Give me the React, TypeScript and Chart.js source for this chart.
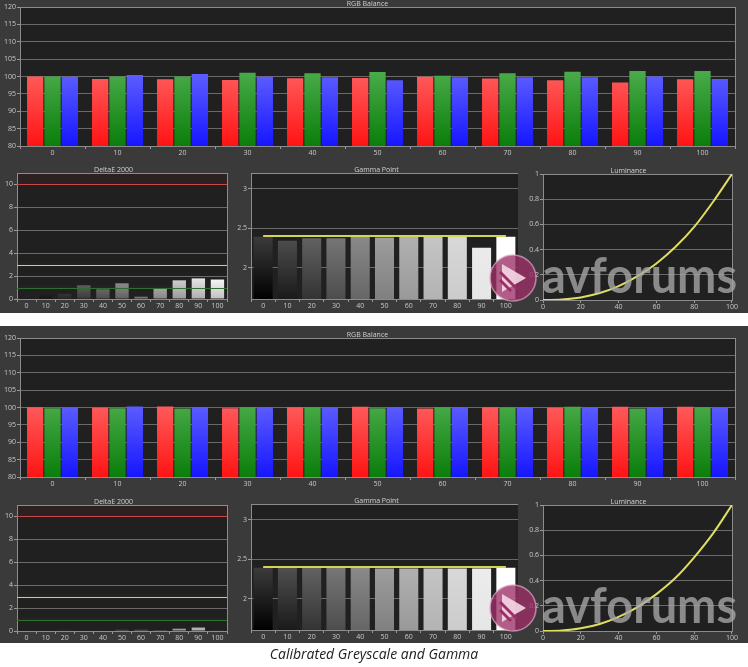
import React, { useEffect, useRef } from 'react';
import { Chart, registerables } from 'chart.js';

Chart.register(...registerables);

// ---------- data ----------
const CATEGORIES = ['0', '10', '20', '30', '40', '50', '60', '70', '80', '90', '100'];

const RGB1_RED = [100, 99.3, 99.2, 99.0, 99.5, 99.6, 99.9, 99.4, 98.9, 98.3, 99.2];
const RGB1_GREEN = [100, 100, 100, 101.1, 100.9, 101.3, 100.2, 100.9, 101.4, 101.6, 101.6];
const RGB1_BLUE = [99.9, 100.4, 100.7, 99.9, 99.8, 98.9, 99.8, 99.8, 99.8, 100, 99.3];

const RGB2_RED = [100.1, 99.9, 100.3, 99.8, 100.1, 100.2, 99.7, 100.1, 99.9, 100.2, 100.2];
const RGB2_GREEN = [99.8, 99.8, 99.7, 100.1, 100.1, 99.8, 100.1, 100, 100.2, 99.7, 100.1];
const RGB2_BLUE = [100, 100.3, 100.1, 100.1, 99.9, 100.1, 100.1, 100.1, 99.9, 100.1, 99.9];

const DELTAE1 = [0.05, 0.45, 0.45, 1.2, 0.85, 1.37, 0.2, 0.93, 1.63, 1.8, 1.7];
const DELTAE2 = [0, 0.05, 0.12, 0.05, 0.05, 0.1, 0.1, 0.02, 0.2, 0.3, 0.05];

const GAMMA1 = [2.39, 2.34, 2.37, 2.37, 2.39, 2.38, 2.4, 2.39, 2.4, 2.25, 2.39];
const GAMMA2 = [2.39, 2.39, 2.39, 2.39, 2.39, 2.38, 2.38, 2.38, 2.38, 2.38, 2.39];
const GAMMA_TARGET = [2.4, 2.4, 2.4, 2.4, 2.4, 2.4, 2.4, 2.4, 2.4, 2.4, 2.4];

const LUM_X = [0, 10, 20, 30, 40, 50, 60, 70, 80, 90, 100];
const LUM1 = [0, 0.004, 0.02, 0.055, 0.11, 0.19, 0.29, 0.42, 0.58, 0.78, 1.0];
const LUM2 = [0, 0.004, 0.021, 0.056, 0.112, 0.19, 0.293, 0.42, 0.585, 0.775, 1.0];

const RGB_TICKS = [80, 85, 90, 95, 100, 105, 110, 115, 120];
const DELTAE_TICKS = [0, 2, 4, 6, 8, 10];
const GAMMA_TICKS = [2, 2.5, 3];
const LUM_Y_TICKS = [0, 0.2, 0.4, 0.6, 0.8, 1];
const LUM_X_TICKS = [0, 20, 40, 60, 80, 100];

const DELTAE_LIMITS = [10, 3, 1];
const DELTAE_LIMIT_COLORS = ['#c84848', '#d2d25a', '#2f6e2f'];
const DELTAE_BANDS = [
  [10, 11, 'rgba(120,40,40,0.16)'],
  [2.5, 3.5, 'rgba(110,110,40,0.08)'],
  [0.5, 1.5, 'rgba(40,100,40,0.1)'],
];

// ---------- styles ----------
const FONT = { family: 'Open Sans', size: 7 };
const TICK = '#c8c8c8';
const GRID = '#6a6a6a';
const AXIS = '#9a9a9a';
const PLOT_BG = '#202020';
const PANEL_BG = '#3a3a3a';

const framePlugin = (limits?: number[], limitColors?: string[], bands?: any[]) => ({
  id: 'frame',
  beforeDraw(chart: any) {
    const { ctx, chartArea: a } = chart;
    ctx.save();
    ctx.fillStyle = PLOT_BG;
    ctx.fillRect(a.left, a.top, a.width, a.height);
    if (bands) {
      const y = chart.scales.y;
      bands.forEach((b) => {
        const y1 = y.getPixelForValue(b[1]);
        const y0 = y.getPixelForValue(b[0]);
        const g = ctx.createLinearGradient(0, y1, 0, y0);
        g.addColorStop(0, 'rgba(0,0,0,0)');
        g.addColorStop(0.5, b[2]);
        g.addColorStop(1, 'rgba(0,0,0,0)');
        ctx.fillStyle = b[0] >= 10 ? b[2] : g;
        ctx.fillRect(a.left, y1, a.width, y0 - y1);
      });
    }
    ctx.restore();
  },
  beforeDatasetsDraw(chart: any) {
    const { ctx, chartArea: a } = chart;
    ctx.save();
    ctx.strokeStyle = '#8c8c8c';
    ctx.lineWidth = 1;
    ctx.strokeRect(Math.round(a.left) + 0.5, Math.round(a.top) + 0.5, Math.round(a.width), Math.round(a.height));
    ctx.restore();
  },
  afterDatasetsDraw(chart: any) {
    if (!limits) return;
    const { ctx, chartArea: a } = chart;
    const y = chart.scales.y;
    ctx.save();
    ctx.lineWidth = 1.2;
    limits.forEach((v, i) => {
      const py = Math.round(y.getPixelForValue(v)) + 0.5;
      ctx.strokeStyle = limitColors![i];
      ctx.beginPath();
      ctx.moveTo(a.left, py);
      ctx.lineTo(a.right, py);
      ctx.stroke();
    });
    ctx.restore();
  },
});

const vGrad = (top: string, bottom: string, fromValue: number) => (c: any) => {
  const chart = c.chart;
  const a = chart.chartArea;
  if (!a) return bottom;
  const y0 = chart.scales.y.getPixelForValue(fromValue);
  const g = chart.ctx.createLinearGradient(0, y0, 0, a.bottom);
  g.addColorStop(0, top);
  g.addColorStop(1, bottom);
  return g;
};

const shade = (v: number) => {
  const n = Math.max(0, Math.min(255, Math.round(v)));
  return `rgb(${n},${n},${n})`;
};

const greyGrad = (fromValue: number, bottomFactor: number) => (c: any) => {
  const chart = c.chart;
  const a = chart.chartArea;
  const t = c.dataIndex / (CATEGORIES.length - 1);
  const top = shade(60 + 195 * t);
  const bottom = shade(255 * t * bottomFactor);
  if (!a) return top;
  const y0 = chart.scales.y.getPixelForValue(fromValue);
  const g = chart.ctx.createLinearGradient(0, y0, 0, a.bottom);
  g.addColorStop(0, top);
  g.addColorStop(1, bottom);
  return g;
};

const numLabel = (v: any) => String(Math.round(Number(v) * 100) / 100);

const titleOpt = (text: string, padTop: number) => ({
  display: true,
  text,
  color: '#d0d0d0',
  font: { family: 'Open Sans', size: 7, lineHeight: 1, weight: 'normal' },
  padding: { top: padTop, bottom: 0 },
});

const yAxis = (min: number, max: number, ticks: number[], width: number) => ({
  min,
  max,
  afterBuildTicks: (s: any) => {
    s.ticks = ticks.map((v) => ({ value: v }));
  },
  afterFit: (s: any) => {
    s.width = width;
  },
  ticks: { color: TICK, font: FONT, padding: 1, callback: numLabel },
  grid: { color: GRID, lineWidth: 1, tickLength: 3, tickColor: AXIS },
  border: { color: AXIS },
});

const xCat = (height: number) => ({
  type: 'category',
  offset: true,
  afterFit: (s: any) => {
    s.height = height;
  },
  ticks: { color: TICK, font: FONT, padding: 0, maxRotation: 0, autoSkip: false },
  grid: { offset: true, drawOnChartArea: false, tickLength: 3, color: AXIS },
  border: { color: AXIS },
});

const common = (title: string, padTop: number, padRight: number) => ({
  responsive: false,
  animation: false,
  events: [],
  layout: { padding: { left: 0, right: padRight, top: 0, bottom: 0 } },
  plugins: {
    legend: { display: false },
    tooltip: { enabled: false },
    title: titleOpt(title, padTop),
  },
});

const rgbConfig = (r: number[], g: number[], b: number[]) => ({
  type: 'bar',
  data: {
    labels: CATEGORIES,
    datasets: [
      { data: r, backgroundColor: vGrad('#ff5c5c', '#ff1414', 101), categoryPercentage: 0.8, barPercentage: 0.94 },
      { data: g, backgroundColor: vGrad('#48aa48', '#0a7e0a', 101), categoryPercentage: 0.8, barPercentage: 0.94 },
      { data: b, backgroundColor: vGrad('#5e5eff', '#1616ff', 101), categoryPercentage: 0.8, barPercentage: 0.94 },
    ],
  },
  options: {
    ...common('RGB Balance', 0, 13),
    scales: { x: xCat(14), y: yAxis(80, 120, RGB_TICKS, 20) },
  },
  plugins: [framePlugin()],
});

const deltaConfig = (vals: number[]) => ({
  type: 'bar',
  data: {
    labels: CATEGORIES,
    datasets: [{ data: vals, backgroundColor: greyGrad(2, 0.75), categoryPercentage: 0.7, barPercentage: 1 }],
  },
  options: {
    ...common('DeltaE 2000', 3, 5),
    scales: { x: xCat(12), y: yAxis(0, 11, DELTAE_TICKS, 17) },
  },
  plugins: [framePlugin(DELTAE_LIMITS, DELTAE_LIMIT_COLORS, DELTAE_BANDS)],
});

const gammaConfig = (vals: number[]) => ({
  type: 'bar',
  data: {
    labels: CATEGORIES,
    datasets: [
      {
        type: 'line',
        data: GAMMA_TARGET,
        borderColor: '#d4d45a',
        borderWidth: 2,
        pointRadius: 0,
        order: 0,
      },
      { data: vals, backgroundColor: greyGrad(2.4, 1), categoryPercentage: 0.8, barPercentage: 0.98, order: 1 },
    ],
  },
  options: {
    ...common('Gamma Point', 3, 0),
    scales: { x: xCat(12), y: yAxis(1.6, 3.2, GAMMA_TICKS, 16) },
  },
  plugins: [framePlugin()],
});

const lumConfig = (vals: number[]) => ({
  type: 'line',
  data: {
    datasets: [
      {
        data: LUM_X.map((x, i) => ({ x, y: vals[i] })),
        borderColor: '#dede62',
        borderWidth: 2,
        pointRadius: 0,
        cubicInterpolationMode: 'monotone',
      },
    ],
  },
  options: {
    ...common('Luminance', 3, 4),
    scales: {
      x: {
        type: 'linear',
        min: 0,
        max: 100,
        afterBuildTicks: (s: any) => {
          s.ticks = LUM_X_TICKS.map((v) => ({ value: v }));
        },
        afterFit: (s: any) => {
          s.height = 12;
        },
        ticks: { color: TICK, font: FONT, padding: 0, maxRotation: 0, callback: numLabel },
        grid: { drawOnChartArea: false, tickLength: 3, color: AXIS },
        border: { color: AXIS },
      },
      y: yAxis(0, 1, LUM_Y_TICKS, 20),
    },
  },
  plugins: [framePlugin()],
});

// ---------- components ----------
function ChartBox({ left, top, width, height, config }: any) {
  const ref = useRef<HTMLCanvasElement>(null);
  useEffect(() => {
    const chart = new Chart(ref.current as HTMLCanvasElement, config);
    return () => chart.destroy();
  }, []);
  return (
    <canvas
      ref={ref}
      width={width}
      height={height}
      style={{ position: 'absolute', left, top, width, height, display: 'block' }}
    />
  );
}

function Watermark({ dy }: { dy: number }) {
  const cx = 513;
  const cy = 278 + dy;
  return (
    <g>
      <circle cx={cx} cy={cy} r={23} fill="#9c2f66" fillOpacity={0.78} stroke="#e0a8c8" strokeOpacity={0.7} strokeWidth={1.5} />
      <polygon points={`${cx - 11},${cy - 14} ${cx - 11},${cy + 14} ${cx + 13},${cy}`} fill="#f4d8e6" fillOpacity={0.9} />
      <line x1={cx - 13} y1={cy - 6} x2={cx + 4} y2={cy + 11} stroke="#9c2f66" strokeWidth={3} />
      <line x1={cx - 13} y1={cy + 2} x2={cx - 2} y2={cy + 13} stroke="#9c2f66" strokeWidth={3} />
      <text
        x={542}
        y={293 + dy}
        fontSize={50}
        fontWeight={700}
        fontFamily="Lato, 'Open Sans', sans-serif"
        fill="#a8a8a8"
        fillOpacity={0.78}
        textLength={195}
        lengthAdjust="spacingAndGlyphs"
      >
        avforums
      </text>
    </g>
  );
}

export default function App() {
  Chart.defaults.font.family = 'Open Sans';
  return (
    <div style={{ position: 'absolute', left: 0, top: 0, width: 748, height: 667, background: '#ffffff', overflow: 'hidden' }}>
      <div style={{ position: 'absolute', left: 0, top: 0, width: 748, height: 313, background: PANEL_BG }} />
      <div style={{ position: 'absolute', left: 0, top: 326, width: 748, height: 317, background: PANEL_BG }} />

      <ChartBox left={0} top={0} width={748} height={160} config={rgbConfig(RGB1_RED, RGB1_GREEN, RGB1_BLUE)} />
      <ChartBox left={0} top={163} width={232} height={148} config={deltaConfig(DELTAE1)} />
      <ChartBox left={235} top={163} width={283} height={148} config={gammaConfig(GAMMA1)} />
      <ChartBox left={523} top={164} width={215} height={148} config={lumConfig(LUM1)} />

      <ChartBox left={0} top={331} width={748} height={160} config={rgbConfig(RGB2_RED, RGB2_GREEN, RGB2_BLUE)} />
      <ChartBox left={0} top={495} width={232} height={148} config={deltaConfig(DELTAE2)} />
      <ChartBox left={235} top={494} width={283} height={148} config={gammaConfig(GAMMA2)} />
      <ChartBox left={523} top={495} width={215} height={148} config={lumConfig(LUM2)} />

      <svg width={748} height={667} style={{ position: 'absolute', left: 0, top: 0, pointerEvents: 'none' }}>
        <Watermark dy={0} />
        <Watermark dy={330} />
      </svg>

      <div
        style={{
          position: 'absolute',
          left: 0,
          top: 646,
          width: 748,
          textAlign: 'center',
          fontFamily: "'Open Sans', sans-serif",
          fontStyle: 'italic',
          fontSize: 14,
          lineHeight: '16px',
          color: '#222222',
        }}
      >
        Calibrated Greyscale and Gamma
      </div>
    </div>
  );
}
